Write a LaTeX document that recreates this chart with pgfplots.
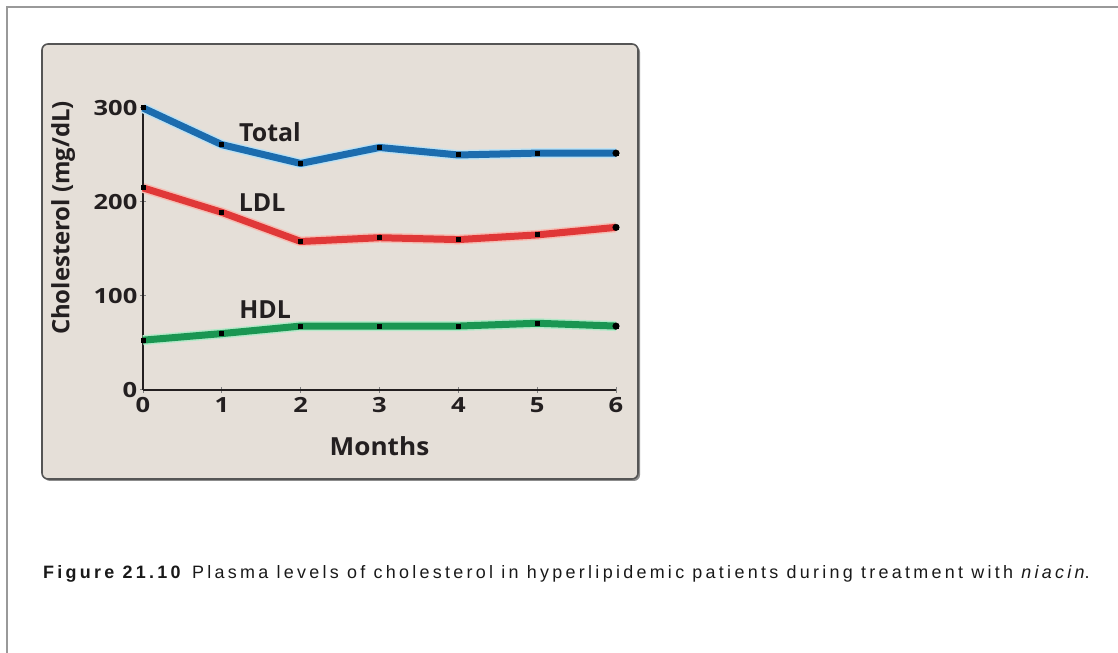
\documentclass[border=0pt]{standalone}
\usepackage{fontspec}
\usepackage{pgfplots}
\pgfplotsset{compat=1.18}
\newfontfamily\chartfont{Open Sans}
\newfontfamily\capfont[LetterSpace=18.3]{Liberation Sans}
\definecolor{bgbox}{RGB}{229,223,216}
\definecolor{boxedge}{RGB}{85,85,85}
\definecolor{cblue}{RGB}{28,108,174}
\definecolor{cred}{RGB}{224,56,56}
\definecolor{cgreen}{RGB}{26,150,82}
\definecolor{hblue}{RGB}{190,225,242}
\definecolor{hred}{RGB}{245,190,180}
\definecolor{hgreen}{RGB}{180,232,200}
\definecolor{axdark}{RGB}{35,31,32}
\begin{document}
\begin{tikzpicture}[x=1bp,y=1bp]
\useasboundingbox (0,0) rectangle (1118,653);
% outer frame (top and left)
\draw[line width=2bp, gray!80] (7,0) -- (7,646) -- (1118,646);
% chart box with shadow
\fill[black!45, rounded corners=6bp] (44,172) rectangle (640,607);
\fill[bgbox, rounded corners=6bp] (42,174) rectangle (638,609);
\draw[boxedge, line width=1.6bp, rounded corners=6bp] (42,174) rectangle (638,609);
\begin{axis}[
  at={(143bp,263bp)}, anchor=south west,
  scale only axis, width=473bp, height=282bp,
  xmin=0, xmax=6, ymin=0, ymax=300,
  clip=false,
  axis x line=bottom, axis y line=left,
  axis line style={-, axdark, line width=1.8bp},
  xtick={0,1,2,3,4,5,6}, ytick={0,100,200,300},
  tick style={gray, line width=1bp},
  major tick length=6bp, tick align=center,
  /pgf/number format/assume math mode=true,
  ticklabel style={font=\chartfont\bfseries\fontsize{21}{21}\selectfont, text=axdark, xscale=1.22},
  yticklabel style={anchor=east, inner sep=1bp, xshift=-1bp},
  xticklabel style={anchor=north, inner sep=1bp, yshift=-3bp},
  xlabel={Months}, ylabel={Cholesterol (mg/dL)},
  label style={font=\chartfont\bfseries\fontsize{25}{25}\selectfont, text=axdark},
  xlabel style={at={(axis description cs:0.5,-0.2)}, anchor=center, xscale=1.05},
  ylabel style={at={(axis description cs:-0.169,0.61)}, anchor=center, rotate=0, font=\chartfont\bfseries\fontsize{24}{24}\selectfont},
]
% Total
\addplot[hblue, line width=10bp, line join=round] coordinates {(0,300) (1,261) (2,241) (3,258) (4,250) (5,252) (6,252)};
\addplot[cblue, line width=7bp, line join=round, mark=square*, mark size=2bp, mark options={black, fill=black, line width=0pt}] coordinates {(0,300) (1,261) (2,241) (3,258) (4,250) (5,252) (6,252)};
% LDL
\addplot[hred, line width=10bp, line join=round] coordinates {(0,215) (1,189) (2,158) (3,162) (4,160) (5,165) (6,173)};
\addplot[cred, line width=7bp, line join=round, mark=square*, mark size=2bp, mark options={black, fill=black, line width=0pt}] coordinates {(0,215) (1,189) (2,158) (3,162) (4,160) (5,165) (6,173)};
% HDL
\addplot[hgreen, line width=10bp, line join=round] coordinates {(0,53) (1,60) (2,68) (3,68) (4,68) (5,71) (6,68)};
\addplot[cgreen, line width=7bp, line join=round, mark=square*, mark size=2bp, mark options={black, fill=black, line width=0pt}] coordinates {(0,53) (1,60) (2,68) (3,68) (4,68) (5,71) (6,68)};
% end dots
\addplot[only marks, mark=*, mark size=3.3bp, black] coordinates {(6,252) (6,173) (6,68)};
\node[font=\chartfont\bfseries\fontsize{25}{25}\selectfont, text=axdark] at (axis cs:1.61,274) {Total};
\node[font=\chartfont\bfseries\fontsize{25}{25}\selectfont, text=axdark] at (axis cs:1.51,199) {LDL};
\node[font=\chartfont\bfseries\fontsize{25}{25}\selectfont, text=axdark] at (axis cs:1.55,86) {HDL};
\end{axis}
\node[anchor=base west, inner sep=0pt, font=\capfont\fontsize{18}{18}\selectfont, text=black!90] at (43,74) {\textbf{Figure 21.10} Plasma levels of cholesterol in hyperlipidemic patients during treatment with \textit{niacin}.};
\end{tikzpicture}
\end{document}
